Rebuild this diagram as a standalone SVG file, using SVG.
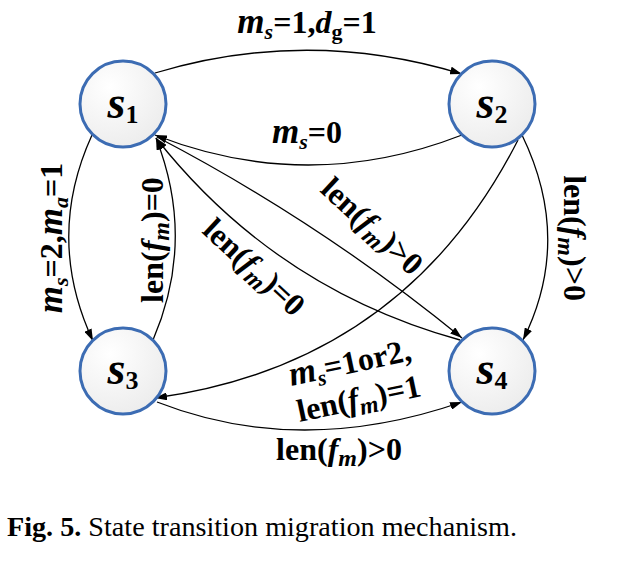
<svg xmlns="http://www.w3.org/2000/svg" width="627" height="561" viewBox="0 0 627 561">
<style>
.lbl{font-family:"Liberation Serif","Times New Roman",serif;font-weight:bold;font-size:32px;fill:#000}
.i{font-style:italic}
.mi{font-style:italic;font-size:35px}
.sb{font-size:22px}
.sm{font-size:24px;font-style:italic}
.node circle{fill:url(#g);stroke:#3c6cb3;stroke-width:3}
.nt{font-family:"Liberation Serif","Times New Roman",serif;font-weight:bold;font-size:46px;fill:#000}
.edge{fill:none;stroke:#000;stroke-width:1.3}
.cap{font-family:"Liberation Serif","Times New Roman",serif;font-size:27px;fill:#000}
</style>
<defs>
<radialGradient id="g" cx="0.35" cy="0.3" r="0.8">
<stop offset="0" stop-color="#ffffff"/>
<stop offset="1" stop-color="#ebebeb"/>
</radialGradient>
<marker id="ah" viewBox="0 0 12 8" refX="12" refY="4" markerWidth="12" markerHeight="8" markerUnits="userSpaceOnUse" orient="auto">
<path d="M0,0 L12,4 L0,8 z" fill="#000"/>
</marker>
</defs>
<rect width="627" height="561" fill="#fff"/>
<g id="connectors">
<path class="edge" d="M155,73 Q308,27 462,74" marker-end="url(#ah)"/>
<path class="edge" d="M462,135 Q308,195 155,135" marker-end="url(#ah)"/>
<path class="edge" d="M92,135 Q45,238 93,341" marker-end="url(#ah)"/>
<path class="edge" d="M153,340 Q196,240 156,138" marker-end="url(#ah)"/>
<path class="edge" d="M157,137 Q320,222 462,338" marker-end="url(#ah)"/>
<path class="edge" d="M460,340 Q275,289 156,138" marker-end="url(#ah)"/>
<path class="edge" d="M518,140 Q404,364 155,398" marker-end="url(#ah)"/>
<path class="edge" d="M157,402 Q300,458 462,402" marker-end="url(#ah)"/>
<path class="edge" d="M522,135 Q573,240 523,340" marker-end="url(#ah)"/>
</g>
<g id="labels" class="lbl" text-anchor="middle">
<text x="307" y="33"><tspan class="mi">m</tspan><tspan class="sb i" dy="6">s</tspan><tspan dy="-6">=1,</tspan><tspan class="i">d</tspan><tspan class="sb" dy="6">g</tspan><tspan dy="-6">=1</tspan></text>
<text x="307" y="143"><tspan class="mi">m</tspan><tspan class="sb i" dy="6">s</tspan><tspan dy="-6">=0</tspan></text>
<text transform="translate(62,238) rotate(-90)"><tspan class="mi">m</tspan><tspan class="sb i" dy="6">s</tspan><tspan dy="-6">=2,</tspan><tspan class="mi">m</tspan><tspan class="sb i" dy="6">a</tspan><tspan dy="-6">=1</tspan></text>
<text transform="translate(163,240) rotate(-90)">len(<tspan class="i">f</tspan><tspan class="sm" dy="6">m</tspan><tspan dy="-6">)=0</tspan></text>
<text transform="translate(247,275) rotate(43)">len(<tspan class="i">f</tspan><tspan class="sm" dy="6">m</tspan><tspan dy="-6">)=0</tspan></text>
<text transform="translate(365,234) rotate(43)">len(<tspan class="i">f</tspan><tspan class="sm" dy="6">m</tspan><tspan dy="-6">)&gt;0</tspan></text>
<text transform="translate(564,238) rotate(90)">len(<tspan class="i">f</tspan><tspan class="sm" dy="6">m</tspan><tspan dy="-6">)&gt;0</tspan></text>
<text transform="translate(352,373) rotate(-12)"><tspan class="mi">m</tspan><tspan class="sb i" dy="6">s</tspan><tspan dy="-6">=1or2,</tspan></text>
<text transform="translate(361,409) rotate(-12)">len(<tspan class="i">f</tspan><tspan class="sm" dy="6">m</tspan><tspan dy="-6">)=1</tspan></text>
<text x="339" y="460">len(<tspan class="i">f</tspan><tspan class="sm" dy="6">m</tspan><tspan dy="-6">)&gt;0</tspan></text>
</g>
<g id="s1" class="node"><circle cx="123" cy="104" r="43"/><text class="nt" x="123" y="118" text-anchor="middle"><tspan font-style="italic">s</tspan><tspan font-size="26" dy="5">1</tspan></text></g>
<g id="s2" class="node"><circle cx="492" cy="104" r="43"/><text class="nt" x="492" y="118" text-anchor="middle"><tspan font-style="italic">s</tspan><tspan font-size="26" dy="5">2</tspan></text></g>
<g id="s3" class="node"><circle cx="123" cy="371" r="43"/><text class="nt" x="123" y="384" text-anchor="middle"><tspan font-style="italic">s</tspan><tspan font-size="26" dy="5">3</tspan></text></g>
<g id="s4" class="node"><circle cx="492" cy="371" r="43"/><text class="nt" x="492" y="384" text-anchor="middle"><tspan font-style="italic">s</tspan><tspan font-size="26" dy="5">4</tspan></text></g>
<text class="cap" x="7" y="536" textLength="510" lengthAdjust="spacingAndGlyphs"><tspan font-weight="bold">Fig. 5.</tspan> State transition migration mechanism.</text>
</svg>
